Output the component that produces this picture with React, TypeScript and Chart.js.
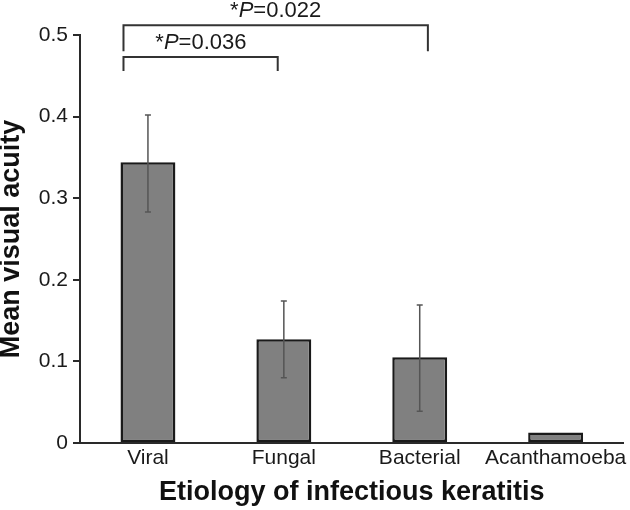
import React, { useEffect, useRef } from "react";
import { Chart, registerables } from "chart.js";

Chart.register(...registerables);

const categories = ["Viral", "Fungal", "Bacterial", "Acanthamoeba"];
const meanValues = [0.344, 0.127, 0.105, 0.013];
const errorUpper = [0.402, 0.174, 0.169, null];
const errorLower = [0.283, 0.08, 0.039, null];
const yTicks = [0, 0.1, 0.2, 0.3, 0.4, 0.5];

// significance brackets (x in category index units, y in data units)
const bracketLabels = ["=0.036", "=0.022"];
const bracketStartX = [-0.18, -0.18];
const bracketEndX = [0.955, 2.06];
const bracketTopY = [0.473, 0.512];
const bracketLegBottomY = [0.456, 0.48];
const bracketLabelX = [0.39, 0.94];
const bracketLabelY = [0.483, 0.522];

const FONT = "'Liberation Sans', Arial, Helvetica, sans-serif";

const overlayPlugin = {
  id: "overlay",
  afterDatasetsDraw(chart: any) {
    const ctx = chart.ctx;
    const xs = chart.scales.x;
    const ys = chart.scales.y;
    const step = xs.getPixelForValue(1) - xs.getPixelForValue(0);
    const px = (v: number) => xs.getPixelForValue(0) + v * step;
    ctx.save();
    // error bars
    ctx.strokeStyle = "#555";
    ctx.lineWidth = 1.5;
    meanValues.forEach((_, i) => {
      const hi = errorUpper[i];
      const lo = errorLower[i];
      if (hi == null || lo == null) return;
      const x = xs.getPixelForValue(i);
      const yh = ys.getPixelForValue(hi);
      const yl = ys.getPixelForValue(lo);
      ctx.beginPath();
      ctx.moveTo(x, yh);
      ctx.lineTo(x, yl);
      ctx.moveTo(x - 3, yh);
      ctx.lineTo(x + 3, yh);
      ctx.moveTo(x - 3, yl);
      ctx.lineTo(x + 3, yl);
      ctx.stroke();
    });
    // brackets
    ctx.strokeStyle = "#333";
    ctx.lineWidth = 2;
    ctx.lineCap = "butt";
    bracketLabels.forEach((lab, i) => {
      const x1 = px(bracketStartX[i]);
      const x2 = px(bracketEndX[i]);
      const yt = ys.getPixelForValue(bracketTopY[i]);
      const yb = ys.getPixelForValue(bracketLegBottomY[i]);
      ctx.beginPath();
      ctx.moveTo(x1, yb);
      ctx.lineTo(x1, yt);
      ctx.lineTo(x2, yt);
      ctx.lineTo(x2, yb);
      ctx.stroke();
      // label: "*" + italic "P" + rest
      const normal = `22px ${FONT}`;
      const italic = `italic 22px ${FONT}`;
      ctx.font = normal;
      const wStar = ctx.measureText("*").width;
      const wRest = ctx.measureText(lab).width;
      ctx.font = italic;
      const wP = ctx.measureText("P").width;
      const total = wStar + wP + wRest;
      let x = px(bracketLabelX[i]) - total / 2;
      const y = ys.getPixelForValue(bracketLabelY[i]);
      ctx.fillStyle = "#1a1a1a";
      ctx.textBaseline = "alphabetic";
      ctx.textAlign = "left";
      ctx.font = normal;
      ctx.fillText("*", x, y);
      x += wStar;
      ctx.font = italic;
      ctx.fillText("P", x, y);
      x += wP;
      ctx.font = normal;
      ctx.fillText(lab, x, y);
    });
    ctx.restore();
  },
};

export default function App() {
  const ref = useRef<HTMLCanvasElement | null>(null);
  useEffect(() => {
    document.body.style.margin = "0";
    const canvas = ref.current;
    if (!canvas) return;
    const chart = new Chart(canvas, {
      type: "bar",
      data: {
        labels: categories,
        datasets: [
          {
            data: meanValues,
            backgroundColor: "#808080",
            borderColor: "#1a1a1a",
            borderWidth: 2.5,
            borderSkipped: false,
            categoryPercentage: 1,
            barPercentage: 0.404,
          },
        ],
      },
      options: {
        responsive: false,
        animation: false,
        devicePixelRatio: 1,
        layout: { padding: { top: 35, right: 6, left: 0, bottom: 0 } },
        plugins: {
          legend: { display: false },
          tooltip: { enabled: false },
        },
        scales: {
          x: {
            offset: true,
            grid: { display: false, drawTicks: false },
            border: { display: true, color: "#2a2a2a", width: 2 },
            ticks: {
              color: "#1a1a1a",
              padding: 3,
              font: { family: FONT, size: 21 },
              maxRotation: 0,
              autoSkip: false,
            },
            title: {
              display: true,
              text: "Etiology of infectious keratitis",
              color: "#111",
              font: { family: FONT, size: 27, weight: "bold", lineHeight: 1.2 },
              padding: { top: 0, bottom: 1 },
            },
            afterFit: (s: any) => {
              s.height = 67;
            },
          },
          y: {
            min: 0,
            max: 0.5,
            afterBuildTicks: (s: any) => {
              s.ticks = yTicks.map((v) => ({ value: v }));
            },
            grid: {
              display: true,
              drawOnChartArea: false,
              drawTicks: true,
              tickLength: 7,
              color: "#2a2a2a",
              lineWidth: 2,
            },
            border: { display: true, color: "#2a2a2a", width: 2 },
            ticks: {
              color: "#1a1a1a",
              padding: 5,
              font: { family: FONT, size: 21 },
              callback: (v: any) => String(Number(v)),
            },
            title: {
              display: true,
              text: "Mean visual acuity",
              color: "#111",
              font: { family: FONT, size: 27, weight: "bold", lineHeight: 0.82 },
              padding: { top: 0, bottom: 0 },
            },
            afterFit: (s: any) => {
              s.width = 80;
            },
          },
        },
      },
      plugins: [overlayPlugin],
    });
    return () => chart.destroy();
  }, []);
  return <canvas ref={ref} width={630} height={510} style={{ display: "block" }} />;
}
